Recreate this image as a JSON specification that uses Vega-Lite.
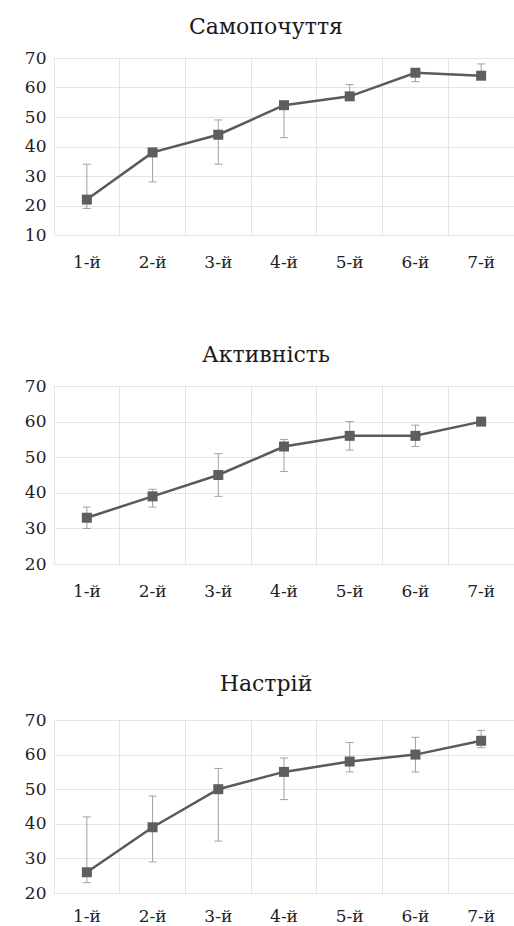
{
  "$schema": "https://vega.github.io/schema/vega-lite/v6.json",
  "background": "white",
  "padding": {"left": 23, "top": 15, "right": 0, "bottom": 0},
  "spacing": 72,
  "datasets": {
    "rows": [
      {"panel": "Самопочуття", "day": "1-й", "mean": 22, "low": 19, "high": 34},
      {"panel": "Самопочуття", "day": "2-й", "mean": 38, "low": 28, "high": 38},
      {"panel": "Самопочуття", "day": "3-й", "mean": 44, "low": 34, "high": 49},
      {"panel": "Самопочуття", "day": "4-й", "mean": 54, "low": 43, "high": 55},
      {"panel": "Самопочуття", "day": "5-й", "mean": 57, "low": 56, "high": 61},
      {"panel": "Самопочуття", "day": "6-й", "mean": 65, "low": 62, "high": 65},
      {"panel": "Самопочуття", "day": "7-й", "mean": 64, "low": 63, "high": 68},
      {"panel": "Активність", "day": "1-й", "mean": 33, "low": 30, "high": 36},
      {"panel": "Активність", "day": "2-й", "mean": 39, "low": 36, "high": 41},
      {"panel": "Активність", "day": "3-й", "mean": 45, "low": 39, "high": 51},
      {"panel": "Активність", "day": "4-й", "mean": 53, "low": 46, "high": 55},
      {"panel": "Активність", "day": "5-й", "mean": 56, "low": 52, "high": 60},
      {"panel": "Активність", "day": "6-й", "mean": 56, "low": 53, "high": 59},
      {"panel": "Активність", "day": "7-й", "mean": 60, "low": 59, "high": 61},
      {"panel": "Настрій", "day": "1-й", "mean": 26, "low": 23, "high": 42},
      {"panel": "Настрій", "day": "2-й", "mean": 39, "low": 29, "high": 48},
      {"panel": "Настрій", "day": "3-й", "mean": 50, "low": 35, "high": 56},
      {"panel": "Настрій", "day": "4-й", "mean": 55, "low": 47, "high": 59},
      {"panel": "Настрій", "day": "5-й", "mean": 58, "low": 55, "high": 63.5},
      {"panel": "Настрій", "day": "6-й", "mean": 60, "low": 55, "high": 65},
      {"panel": "Настрій", "day": "7-й", "mean": 64, "low": 62, "high": 67}
    ]
  },
  "config": {
    "font": "DejaVu Serif",
    "view": {"stroke": "#e4e4e4"},
    "title": {"font": "DejaVu Serif", "fontSize": 22, "fontWeight": "normal", "color": "#1a1a1a", "anchor": "middle", "baseline": "bottom", "offset": 10, "dx": -18},
    "axis": {
      "labelFont": "DejaVu Serif",
      "labelFontSize": 17,
      "labelColor": "#222222",
      "domain": false,
      "ticks": false,
      "tickSize": 0,
      "gridColor": "#e4e4e4",
      "gridWidth": 1
    },
    "axisY": {"labelPadding": 8},
    "axisX": {"labelAngle": 0, "grid": true, "bandPosition": 0, "labelBaseline": "top"}
  },
  "vconcat": [
    {
      "title": "Самопочуття",
      "width": 460,
      "height": 177,
      "data": {"name": "rows"},
      "transform": [{"filter": "datum.panel === 'Самопочуття'"}],
      "encoding": {
        "x": {"field": "day", "type": "nominal", "sort": null, "scale": {"paddingInner": 0, "paddingOuter": 0}, "axis": {"title": null, "labelPadding": 19}}
      },
      "layer": [
        {"mark": {"type": "errorbar", "ticks": {"size": 8, "color": "#7a7a7a", "strokeWidth": 1.5}, "rule": {"color": "#a0a0a0", "strokeWidth": 1}},
         "encoding": {"y": {"field": "low", "type": "quantitative", "scale": {"domain": [10, 70], "nice": false}, "axis": {"title": null, "values": [10, 20, 30, 40, 50, 60, 70]}}, "y2": {"field": "high"}}},
        {"mark": {"type": "line", "color": "#5a5a5a", "strokeWidth": 2.5},
         "encoding": {"y": {"field": "mean", "type": "quantitative", "axis": {"title": null, "values": [10, 20, 30, 40, 50, 60, 70]}}}},
        {"mark": {"type": "point", "shape": "square", "filled": true, "size": 100, "color": "#5e5e5e", "opacity": 1},
         "encoding": {"y": {"field": "mean", "type": "quantitative", "axis": {"title": null, "values": [10, 20, 30, 40, 50, 60, 70]}}}}
      ]
    },
    {
      "title": "Активність",
      "width": 460,
      "height": 178,
      "data": {"name": "rows"},
      "transform": [{"filter": "datum.panel === 'Активність'"}],
      "encoding": {
        "x": {"field": "day", "type": "nominal", "sort": null, "scale": {"paddingInner": 0, "paddingOuter": 0}, "axis": {"title": null, "labelPadding": 19}}
      },
      "layer": [
        {"mark": {"type": "errorbar", "ticks": {"size": 8, "color": "#7a7a7a", "strokeWidth": 1.5}, "rule": {"color": "#a0a0a0", "strokeWidth": 1}},
         "encoding": {"y": {"field": "low", "type": "quantitative", "scale": {"domain": [20, 70], "nice": false}, "axis": {"title": null, "values": [20, 30, 40, 50, 60, 70]}}, "y2": {"field": "high"}}},
        {"mark": {"type": "line", "color": "#5a5a5a", "strokeWidth": 2.5},
         "encoding": {"y": {"field": "mean", "type": "quantitative", "axis": {"title": null, "values": [20, 30, 40, 50, 60, 70]}}}},
        {"mark": {"type": "point", "shape": "square", "filled": true, "size": 100, "color": "#5e5e5e", "opacity": 1},
         "encoding": {"y": {"field": "mean", "type": "quantitative", "axis": {"title": null, "values": [20, 30, 40, 50, 60, 70]}}}}
      ]
    },
    {
      "title": {"text": "Настрій", "offset": 15},
      "width": 460,
      "height": 173,
      "data": {"name": "rows"},
      "transform": [{"filter": "datum.panel === 'Настрій'"}],
      "encoding": {
        "x": {"field": "day", "type": "nominal", "sort": null, "scale": {"paddingInner": 0, "paddingOuter": 0}, "axis": {"title": null, "labelPadding": 15}}
      },
      "layer": [
        {"mark": {"type": "errorbar", "ticks": {"size": 8, "color": "#7a7a7a", "strokeWidth": 1.5}, "rule": {"color": "#a0a0a0", "strokeWidth": 1}},
         "encoding": {"y": {"field": "low", "type": "quantitative", "scale": {"domain": [20, 70], "nice": false}, "axis": {"title": null, "values": [20, 30, 40, 50, 60, 70]}}, "y2": {"field": "high"}}},
        {"mark": {"type": "line", "color": "#5a5a5a", "strokeWidth": 2.5},
         "encoding": {"y": {"field": "mean", "type": "quantitative", "axis": {"title": null, "values": [20, 30, 40, 50, 60, 70]}}}},
        {"mark": {"type": "point", "shape": "square", "filled": true, "size": 100, "color": "#5e5e5e", "opacity": 1},
         "encoding": {"y": {"field": "mean", "type": "quantitative", "axis": {"title": null, "values": [20, 30, 40, 50, 60, 70]}}}}
      ]
    }
  ]
}
